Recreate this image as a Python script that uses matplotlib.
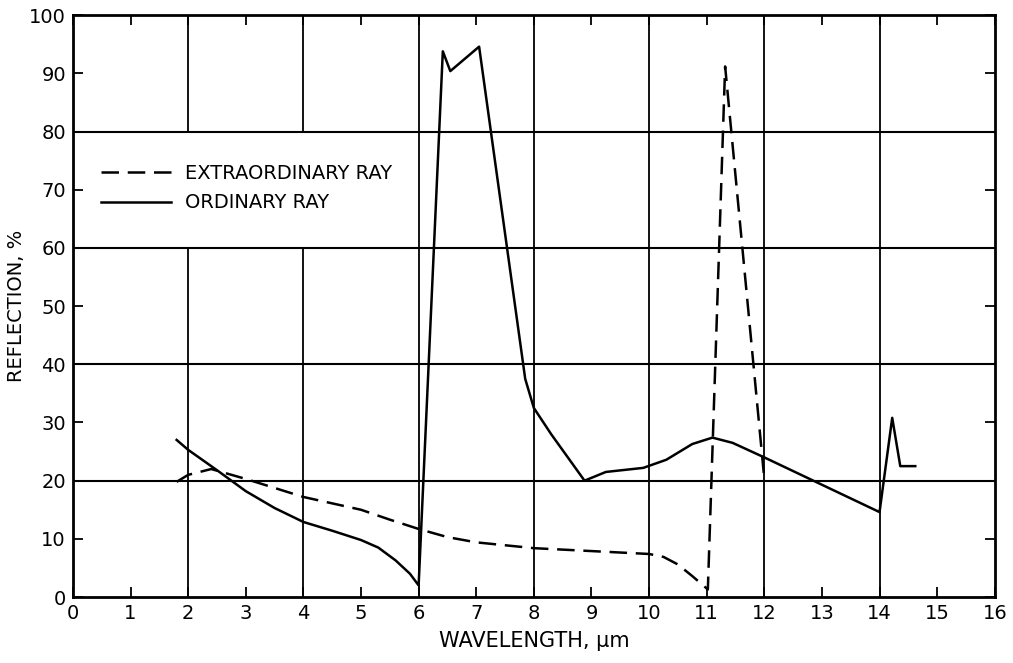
import matplotlib
matplotlib.use('Agg')
import matplotlib.pyplot as plt

plt.rcParams.update({
    'font.family': ['DejaVu Sans'],
    'font.size': 13, 'axes.linewidth': 2.0,
    'xtick.major.width': 1.3, 'ytick.major.width': 1.3,
})

# Ordinary ray (solid)
ord_x = [1.8, 2.0, 2.5, 3.0, 3.5, 4.0, 4.5, 5.0, 5.3, 5.6, 5.85, 6.0, 6.42, 6.55, 7.05,
         7.85, 8.0, 8.3, 8.88, 9.25, 9.9, 10.3, 10.75, 11.1, 11.45, 12.0,
         14.0, 14.22, 14.36, 14.62]
ord_y = [27.0, 25.3, 21.8, 18.2, 15.3, 12.9, 11.4, 9.8, 8.5, 6.3, 4.0, 2.0, 93.8, 90.4, 94.6,
         37.5, 32.5, 28.0, 20.0, 21.5, 22.2, 23.6, 26.3, 27.4, 26.5, 24.0,
         14.6, 30.8, 22.5, 22.5]

# Extraordinary ray (dashed)
ext_x = [1.8, 2.0, 2.4, 3.0, 4.0, 5.0, 5.5, 6.0, 6.5, 7.0, 7.7, 8.0, 9.0, 10.0,
         10.25, 10.5, 10.75, 11.02, 11.32, 12.0]
ext_y = [19.8, 21.0, 22.0, 20.3, 17.2, 15.0, 13.3, 11.7, 10.3, 9.4, 8.7, 8.4, 7.9, 7.4,
         6.9, 5.6, 3.6, 1.3, 91.2, 20.3]

x_ticks = list(range(0, 17))
y_ticks = list(range(0, 101, 10))
grid_x = [2, 4, 6, 8, 10, 12, 14]
grid_y = [20, 40, 60, 80]

fig = plt.figure(figsize=(10.13, 6.63), dpi=100)
ax = fig.add_axes([0.072, 0.0995, 0.910, 0.8775])

# grid (x=2 and x=4 interrupted where the legend sits)
for gx in grid_x:
    if gx in (2, 4):
        ax.plot([gx, gx], [0, 60], color='black', lw=1.3, zorder=1)
        ax.plot([gx, gx], [80, 100], color='black', lw=1.3, zorder=1)
    else:
        ax.axvline(gx, color='black', lw=1.3, zorder=1)
for gy in grid_y:
    ax.axhline(gy, color='black', lw=1.5, zorder=1)

ax.plot(ext_x, ext_y, color='black', lw=1.8, dashes=(7, 3.5),
        label='EXTRAORDINARY RAY', zorder=3)
ax.plot(ord_x, ord_y, color='black', lw=1.8, label='ORDINARY RAY', zorder=3)

ax.set_xlim(0, 16)
ax.set_ylim(0, 100)
ax.set_xticks(x_ticks)
ax.set_yticks(y_ticks)
ax.tick_params(direction='in', length=7, top=True, right=True,
               labelsize=14, pad=5)

ax.set_xlabel('WAVELENGTH, \u03bcm', fontsize=15, labelpad=6)
ax.set_ylabel('REFLECTION, %', fontsize=14, labelpad=2)

ax.legend(loc='upper left', bbox_to_anchor=(0.012, 0.775), frameon=False,
          fontsize=14, handlelength=3.6, handletextpad=0.7, labelspacing=0.55)

fig.savefig('out.png', dpi=100, facecolor='white')
